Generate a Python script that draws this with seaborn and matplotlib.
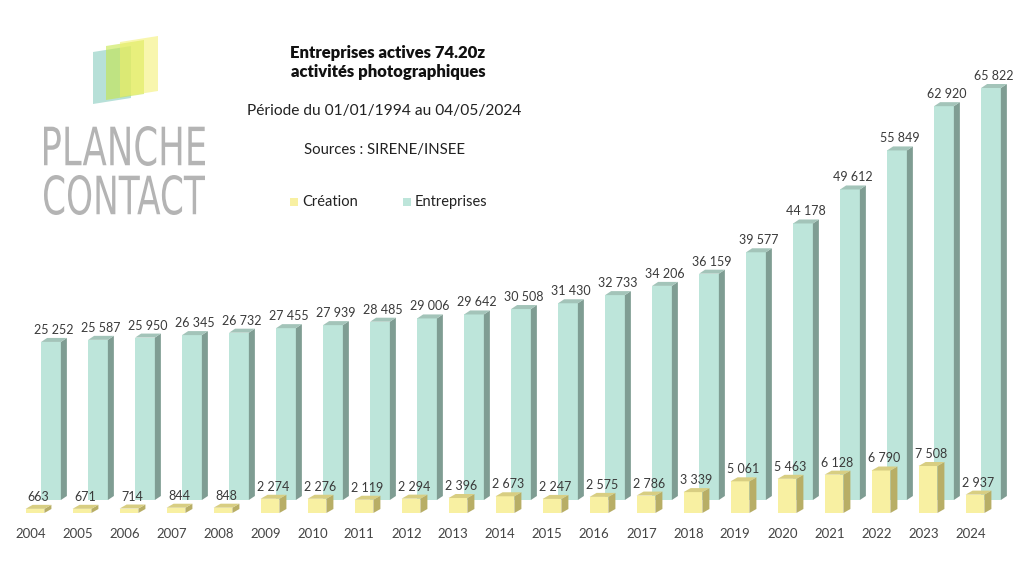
import matplotlib
matplotlib.use("Agg")
import matplotlib.pyplot as plt
import seaborn as sns
import pandas as pd
import numpy as np
from matplotlib.patches import Polygon, Rectangle, PathPatch
from matplotlib.textpath import TextPath
from matplotlib.font_manager import FontProperties
from matplotlib.transforms import Affine2D, IdentityTransform

years = [str(y) for y in range(2004, 2025)]
entreprises = [25252, 25587, 25950, 26345, 26732, 27455, 27939, 28485, 29006, 29642,
               30508, 31430, 32733, 34206, 36159, 39577, 44178, 49612, 55849, 62920, 65822]
creation = [663, 671, 714, 844, 848, 2274, 2276, 2119, 2294, 2396,
            2673, 2247, 2575, 2786, 3339, 5061, 5463, 6128, 6790, 7508, 2937]

W, H = 1030, 561
DPI = 100
sns.set_theme(style="white")
plt.rcParams['font.family'] = ['Lato', 'DejaVu Sans']
fig = plt.figure(figsize=(W / DPI, H / DPI), dpi=DPI)
fig.patch.set_facecolor("white")

STEP = 47.0          # px per year
AX_H = 440.0         # px
YMAX = 65822 * AX_H / 412.0

def px_axes(left, baseline_from_top):
    b = H - baseline_from_top
    return fig.add_axes([left / W, b / H, 21 * STEP / W, AX_H / H])

df = pd.DataFrame({"year": years, "Entreprises": entreprises, "Création": creation})

ent_front, ent_side, ent_top = "#bde5da", "#7f9d93", "#a3c4b9"
cre_front, cre_side, cre_top = "#f8f0a2", "#b8ae66", "#d8ce82"

ax_e = px_axes(51 - STEP / 2, 500)
sns.barplot(data=df, x="year", y="Entreprises", color=ent_front, saturation=1,
            width=0.42, ax=ax_e, edgecolor="none")
ax_c = px_axes(35 - STEP / 2, 513)
sns.barplot(data=df, x="year", y="Création", color=cre_front, saturation=1,
            width=0.40, ax=ax_c, edgecolor="none")
for ax in (ax_e, ax_c):
    ax.set_xlim(-0.5, 20.5)
    ax.set_ylim(0, YMAX)
    ax.patch.set_alpha(0)
    for s in ax.spines.values():
        s.set_visible(False)
    ax.set_yticks([])
    ax.set_xlabel("")
    ax.set_ylabel("")
ax_e.set_xticks([])
ax_c.set_xticks(np.arange(len(years)) - 0.1, years)
ax_c.tick_params(axis="x", length=0, pad=11, labelsize=9.5, labelcolor="#444444")

fig.canvas.draw()
inv = fig.transFigure.inverted()

def add_3d(ax, side_c, top_c, dx, dy, values, lab_dy):
    for p, v in zip(ax.patches, values):
        x0, y0 = p.get_x(), p.get_y()
        x1, y1 = x0 + p.get_width(), y0 + p.get_height()
        (X0, Y0) = ax.transData.transform((x0, y0))
        (X1, Y1) = ax.transData.transform((x1, y1))
        side = [(X1, Y0), (X1 + dx, Y0 + dy), (X1 + dx, Y1 + dy), (X1, Y1)]
        top = [(X0, Y1), (X1, Y1), (X1 + dx, Y1 + dy), (X0 + dx, Y1 + dy)]
        for pts, c in ((side, side_c), (top, top_c)):
            fpts = inv.transform(pts)
            fig.add_artist(Polygon(fpts, closed=True, facecolor=c, edgecolor="none",
                                   transform=fig.transFigure, zorder=ax.get_zorder() + 0.5))
        lx, ly = inv.transform(((X0 + X1) / 2 + dx / 2, Y1 + dy + lab_dy))
        fig.text(lx, ly, f"{v:,}".replace(",", " "), ha="center", va="bottom",
                 fontsize=9, color="#3a3a3a")

add_3d(ax_e, ent_side, ent_top, 6, 4, entreprises, 2)
add_3d(ax_c, cre_side, cre_top, 7, 4, creation, 2)

# Titles
fig.text(388 / W, 1 - 53 / H, "Entreprises actives 74.20z", ha="center", va="center",
         fontsize=12, fontweight="heavy", color="#111111")
fig.text(388 / W, 1 - 72 / H, "activités photographiques", ha="center", va="center",
         fontsize=12, fontweight="heavy", color="#111111")
fig.text(384 / W, 1 - 111 / H, "Période du 01/01/1994 au 04/05/2024", ha="center",
         va="center", fontsize=11.2, color="#222222")
fig.text(384 / W, 1 - 150 / H, "Sources : SIRENE/INSEE", ha="center", va="center",
         fontsize=10.7, color="#222222")

# Legend
fig.add_artist(Rectangle((290 / W, 1 - 206 / H), 8 / W, 8 / H, facecolor=cre_front,
                         edgecolor="none", transform=fig.transFigure))
fig.text(302 / W, 1 - 202 / H, "Création", va="center", fontsize=10.5, color="#222222")
fig.add_artist(Rectangle((403 / W, 1 - 206 / H), 8 / W, 8 / H, facecolor=ent_front,
                         edgecolor="none", transform=fig.transFigure))
fig.text(415 / W, 1 - 202 / H, "Entreprises", va="center", fontsize=10.5, color="#222222")

# Logo
def skew(x0, y0, w, h, sk):
    pts = [(x0, y0 + h), (x0 + w, y0 + h - sk), (x0 + w, y0 - sk), (x0, y0)]
    return [(x / W, 1 - y / H) for x, y in pts]
for (x0, y0, w, h, c, a) in [(93, 52, 38, 52, "#9fd6cc", 0.75),
                             (106, 46, 38, 54, "#c6e64a", 0.6),
                             (120, 42, 38, 55, "#f3ef6a", 0.55)]:
    fig.add_artist(Polygon(skew(x0, y0, w, h, 6), closed=True, facecolor=c, alpha=a,
                           edgecolor="none", transform=fig.transFigure))

prop = FontProperties(family="DejaVu Sans", weight="normal")
for txt, top, bot in (("PLANCHE", 126, 166), ("CONTACT", 175, 215)):
    tp = TextPath((0, 0), txt, size=10, prop=prop)
    ext = tp.get_extents()
    sx = (205 - 44) / ext.width
    sy = (bot - top) / ext.height
    tr = (Affine2D().translate(-ext.x0, -ext.y0).scale(sx, sy)
          .translate(44, H - bot))
    fig.add_artist(PathPatch(tr.transform_path(tp), facecolor="#b4b4b4",
                             edgecolor="none", transform=IdentityTransform()))

fig.savefig("out.png", dpi=DPI, facecolor="white")
